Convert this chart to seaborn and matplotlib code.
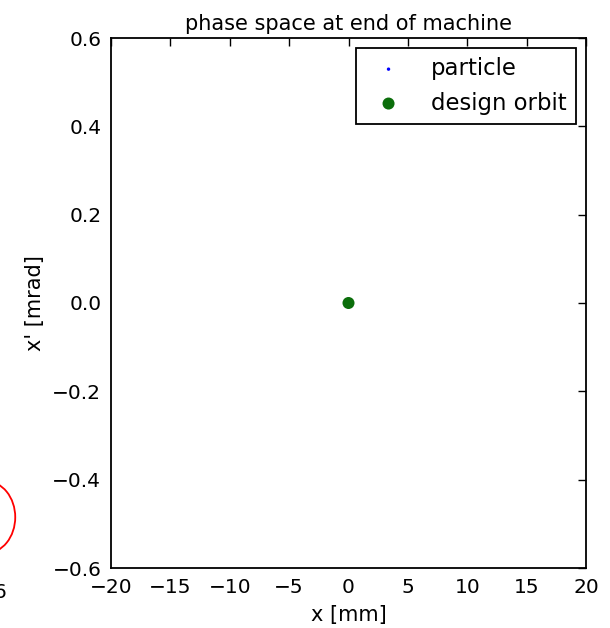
import matplotlib as mpl
mpl.use('Agg')
import matplotlib.pyplot as plt
from matplotlib.patches import Ellipse
import seaborn as sns

# values
particle_x = [0.0]
particle_y = [0.0]
orbit_x = [0.0]
orbit_y = [0.0]

x_ticks = [-20, -15, -10, -5, 0, 5, 10, 15, 20]
y_ticks = [-0.6, -0.4, -0.2, 0.0, 0.2, 0.4, 0.6]

# piece of the neighbouring panel that shows at the left edge
neighbour_ticks = [6]
ellipse_x = 5.65
ellipse_y = -0.485
ellipse_w = 1.47
ellipse_h = 0.163

sns.set_style('white')
plt.rcParams['font.family'] = ['DejaVu Sans']
plt.rcParams['font.size'] = 15
plt.rcParams['text.color'] = 'black'
plt.rcParams['axes.labelcolor'] = 'black'


def fmt(v, spec):
    return format(v, spec).replace('-', '\u2212')


fig = plt.figure(figsize=(6.1, 6.28), dpi=100)
ax = fig.add_axes([111 / 610, 60 / 628, 475 / 610, 530 / 628])

sns.scatterplot(x=particle_x, y=particle_y, ax=ax, color='blue', marker='o',
                s=6, edgecolor='none', label='particle')
sns.scatterplot(x=orbit_x, y=orbit_y, ax=ax, color='#0b6e0b', marker='o',
                s=75, edgecolor='none', label='design orbit')

ax.set_xlim(-20, 20)
ax.set_ylim(-0.6, 0.6)
ax.set_xticks(x_ticks)
ax.set_yticks(y_ticks)
ax.set_xticklabels([fmt(t, 'd') for t in x_ticks])
ax.set_yticklabels([fmt(t, '.1f') for t in y_ticks])
ax.tick_params(direction='in', length=6, width=1, top=True, right=True,
               labelsize=14.5, pad=7, colors='black')
for sp in ax.spines.values():
    sp.set_color('black')
    sp.set_linewidth(1.3)
ax.set_xlabel('x [mm]', fontsize=15, labelpad=6)
ax.set_ylabel("x' [mrad]", fontsize=15, labelpad=5)
ax.set_title('phase space at end of machine', fontsize=15, pad=6, color='black')

leg = ax.legend(loc='upper right', fancybox=False, framealpha=1,
                edgecolor='black', scatterpoints=1, fontsize=16.4,
                borderpad=0.4, handlelength=2.05, handletextpad=0.85,
                labelspacing=0.5, borderaxespad=0.44)
leg.get_frame().set_linewidth(1.3)
for t in leg.get_texts():
    t.set_color('black')

# neighbouring panel, mostly off the canvas
ax2 = fig.add_axes([-475 / 610, 60 / 628, 475 / 610, 530 / 628])
ax2.set_xlim(-6, 6)
ax2.set_ylim(-0.6, 0.6)
ax2.set_frame_on(False)
ax2.set_xticks(neighbour_ticks)
ax2.set_xticklabels([str(t) for t in neighbour_ticks])
ax2.set_yticks([])
ax2.tick_params(axis='x', length=0, labelsize=14.5, pad=11, colors='black')
ax2.add_patch(Ellipse((ellipse_x, ellipse_y), ellipse_w, ellipse_h,
                      fill=False, edgecolor='red', linewidth=1.3, clip_on=False))

fig.savefig('out.png', dpi=100)
